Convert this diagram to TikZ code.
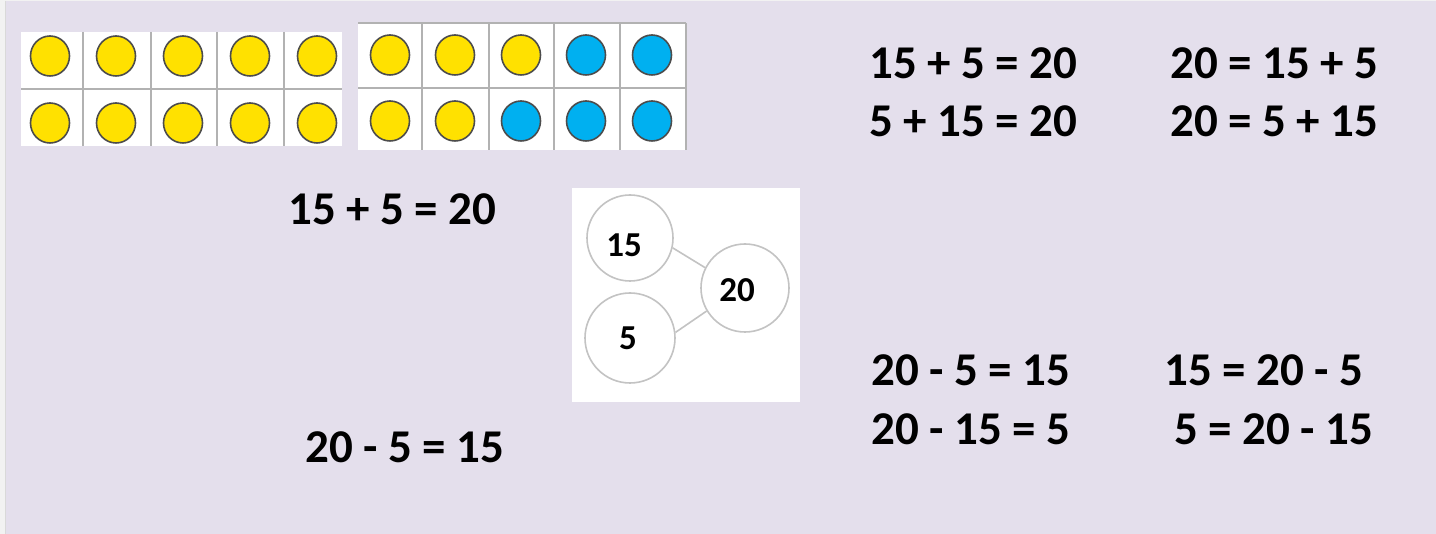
\documentclass[tikz,border=0pt]{standalone}
\usepackage{fontspec}
\setmainfont{Carlito}
\definecolor{lav}{RGB}{228,223,236}
\definecolor{tfyellow}{RGB}{255,225,0}
\definecolor{tfblue}{RGB}{0,176,240}
\definecolor{gridgray}{RGB}{178,178,178}
\definecolor{pwgray}{RGB}{195,195,195}
\definecolor{edgegray}{RGB}{242,242,242}
\begin{document}
\begin{tikzpicture}[x=1pt,y=-1pt,
  eq/.style={anchor=base west, inner sep=0pt, font=\fontsize{47}{56}\selectfont\bfseries},
  pwcircle/.style={circle, draw=pwgray, line width=1.6pt, fill=white, inner sep=0pt},
  pwlabel/.style={inner sep=0pt, font=\fontsize{35}{42}\selectfont\bfseries},
  pwlink/.style={draw=pwgray, line width=1.6pt},
  gridline/.style={draw=gridgray, line width=1.5pt},
  counter/.style={draw=black!70, line width=1.6pt}]
\useasboundingbox (0,0) rectangle (1436,534);
% background panel
\fill[edgegray] (0,0) rectangle (1436,534);
\fill[lav] (6,1) rectangle (1436,534);
\draw[gray!30, line width=1pt] (5.5,1) -- (5.5,534);

% ten frame 1
\fill[white] (21,32) rectangle (342,146);
\foreach \x in {83,151,217,284} \draw[gridline] (\x,32) -- (\x,146);
\draw[gridline] (21,89) -- (342,89);
\foreach \x in {50,116,183,250,317} {
  \filldraw[fill=tfyellow, counter] (\x,56) ellipse [x radius=19.5pt, y radius=20pt];
  \filldraw[fill=tfyellow, counter] (\x,123) ellipse [x radius=19.5pt, y radius=20pt];
}

% ten frame 2
\fill[white] (358,23) rectangle (686,150);
\foreach \x in {422,489,554,620,686} \draw[gridline] (\x,23) -- (\x,150);
\draw[gridline] (358,23) -- (686,23);
\draw[gridline] (358,88) -- (686,88);
\foreach \x in {390,455,521}
  \filldraw[fill=tfyellow, counter] (\x,55) ellipse [x radius=19.5pt, y radius=20pt];
\foreach \x in {586,652}
  \filldraw[fill=tfblue, counter] (\x,55) ellipse [x radius=19.5pt, y radius=20pt];
\foreach \x in {390,455}
  \filldraw[fill=tfyellow, counter] (\x,121) ellipse [x radius=19.5pt, y radius=20pt];
\foreach \x in {521,586,652}
  \filldraw[fill=tfblue, counter] (\x,121) ellipse [x radius=19.5pt, y radius=20pt];

% part-whole model
\fill[white] (572,188) rectangle (800,402);
\node[pwcircle, minimum size=86pt] (c15) at (630,238) {};
\node[pwcircle, minimum size=90pt] (c5) at (630,338) {};
\node[pwcircle, minimum size=88pt] (c20) at (745,288) {};
\draw[pwlink] (c15.-13) -- (c20.153);
\draw[pwlink] (c5.7) -- (c20.211);
\node[pwlabel] (l15) at (624,245) {15};
\node[pwlabel] (l5) at (628,338) {5};
\node[pwlabel] (l20) at (737,290) {20};

% equations
\node[eq] (e1) at (869,79) {15 + 5 = 20};
\node[eq] (e2) at (869,137) {5 + 15 = 20};
\node[eq] (e3) at (1170,79) {20 = 15 + 5};
\node[eq] (e4) at (1170,137) {20 = 5 + 15};
\node[eq] (e5) at (288,225) {15 + 5 = 20};
\node[eq] (e6) at (871,386) {20 - 5 = 15};
\node[eq] (e7) at (1164,386) {15 = 20 - 5};
\node[eq] (e8) at (871,445) {20 - 15 = 5};
\node[eq] (e9) at (1174,445) {5 = 20 - 15};
\node[eq] (e10) at (305,463) {20 - 5 = 15};
\end{tikzpicture}
\end{document}
